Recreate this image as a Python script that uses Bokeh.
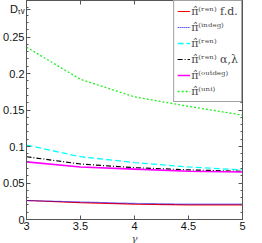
from bokeh.plotting import figure
from bokeh.models import (Range1d, LinearAxis, Legend, LegendItem, FixedTicker)
from bokeh.embed import file_html
from bokeh.resources import INLINE

gamma = [3.0, 3.5, 4.0, 4.5, 5.0]
ren_fd = [0.026, 0.023, 0.021, 0.020, 0.020]
indeg = [0.026, 0.024, 0.022, 0.021, 0.021]
ren = [0.102, 0.086, 0.078, 0.072, 0.068]
ren_al = [0.086, 0.076, 0.071, 0.068, 0.066]
outdeg = [0.079, 0.072, 0.069, 0.066, 0.065]
uni = [0.236, 0.192, 0.168, 0.155, 0.143]

labels = ["π̂⁽ʳᵉⁿ⁾ f.d.", "π̂⁽ⁱⁿᵈᵉᵍ⁾", "π̂⁽ʳᵉⁿ⁾", "π̂⁽ʳᵉⁿ⁾ α,λ",
          "π̂⁽ᵒᵘᵗᵈᵉᵍ⁾", "π̂⁽ᵘⁿⁱ⁾"]
x_ticks = [3, 3.5, 4, 4.5, 5]
x_tick_labels = {3: "3", 3.5: "3.5", 4: "4", 4.5: "4.5", 5: "5"}
y_ticks = [0, 0.05, 0.1, 0.15, 0.2, 0.25]
y_tick_labels = {0: "0", 0.05: "0.05", 0.1: "0.1", 0.15: "0.15", 0.2: "0.2", 0.25: "0.25"}
y_title = "Dₜᵥ"
y_title_pos = 0.288
y_minor = [i * 0.01 for i in range(31)]

p = figure(width=246, height=246, output_backend="svg", toolbar_location=None,
           x_range=Range1d(3, 5), y_range=Range1d(0, 0.3),
           min_border_left=22, min_border_right=4, min_border_top=0,
           min_border_bottom=0)
p.background_fill_color = "white"
p.border_fill_color = "white"
p.outline_line_color = "#555555"
p.grid.visible = False

axcol = "#555555"
for ax in [p.xaxis[0], p.yaxis[0]]:
    ax.axis_line_color = axcol
    ax.major_tick_line_color = axcol
    ax.minor_tick_line_color = axcol
    ax.major_tick_in = 4
    ax.major_tick_out = 0
    ax.minor_tick_in = 2
    ax.minor_tick_out = 0
    ax.major_label_text_font = "Liberation Sans"
    ax.major_label_text_font_size = "11px"
    ax.major_label_text_color = "#111111"
    ax.major_label_standoff = 2

p.xaxis[0].ticker = FixedTicker(ticks=x_ticks, minor_ticks=[])
p.xaxis[0].major_label_overrides = x_tick_labels
p.xaxis[0].axis_label = "γ"
p.xaxis[0].axis_label_text_font = "DejaVu Serif"
p.xaxis[0].axis_label_text_font_style = "italic"
p.xaxis[0].axis_label_text_font_size = "10px"
p.xaxis[0].axis_label_standoff = 0
p.yaxis[0].ticker = FixedTicker(ticks=y_ticks + [y_title_pos], minor_ticks=y_minor)
y_over = dict(y_tick_labels)
y_over[y_title_pos] = y_title
p.yaxis[0].major_label_overrides = y_over

top = LinearAxis(ticker=FixedTicker(ticks=x_ticks, minor_ticks=[]),
                 major_label_overrides={t: "" for t in x_ticks},
                 axis_line_color=axcol, major_tick_line_color=axcol,
                 major_tick_in=4, major_tick_out=0, major_label_standoff=0,
                 major_label_text_font_size="1px")
p.add_layout(top, "above")
right = LinearAxis(ticker=FixedTicker(ticks=y_ticks, minor_ticks=y_minor),
                   major_label_overrides={t: "" for t in y_ticks},
                   axis_line_color=axcol, major_tick_line_color=axcol,
                   minor_tick_line_color=axcol, major_tick_in=4,
                   major_tick_out=0, minor_tick_in=2, minor_tick_out=0,
                   major_label_standoff=0, major_label_text_font_size="1px")
p.add_layout(right, "right")

r1 = p.line(gamma, ren_fd, line_color="red", line_width=1.2)
r2 = p.line(gamma, indeg, line_color="blue", line_width=1.2, line_dash="1 1")
r3 = p.line(gamma, ren, line_color="cyan", line_width=1.3, line_dash="6 3")
r4 = p.line(gamma, ren_al, line_color="black", line_width=1.2, line_dash="5 2 1 2")
r5 = p.line(gamma, outdeg, line_color="magenta", line_width=1.6)
r6 = p.line(gamma, uni, line_color="#22ee22", line_width=1.3, line_dash="2 2")

items = [LegendItem(label=l, renderers=[r]) for l, r in
         zip(labels, [r1, r2, r3, r4, r5, r6])]
leg = Legend(items=items, location="top_right", label_text_font="DejaVu Serif",
             label_text_font_size="11px", glyph_width=13, glyph_height=14,
             label_height=14, label_standoff=1, spacing=2, padding=3, margin=0,
             border_line_color="#444444", background_fill_alpha=1.0)
p.add_layout(leg)

open("out.html", "w").write(file_html(p, INLINE))
